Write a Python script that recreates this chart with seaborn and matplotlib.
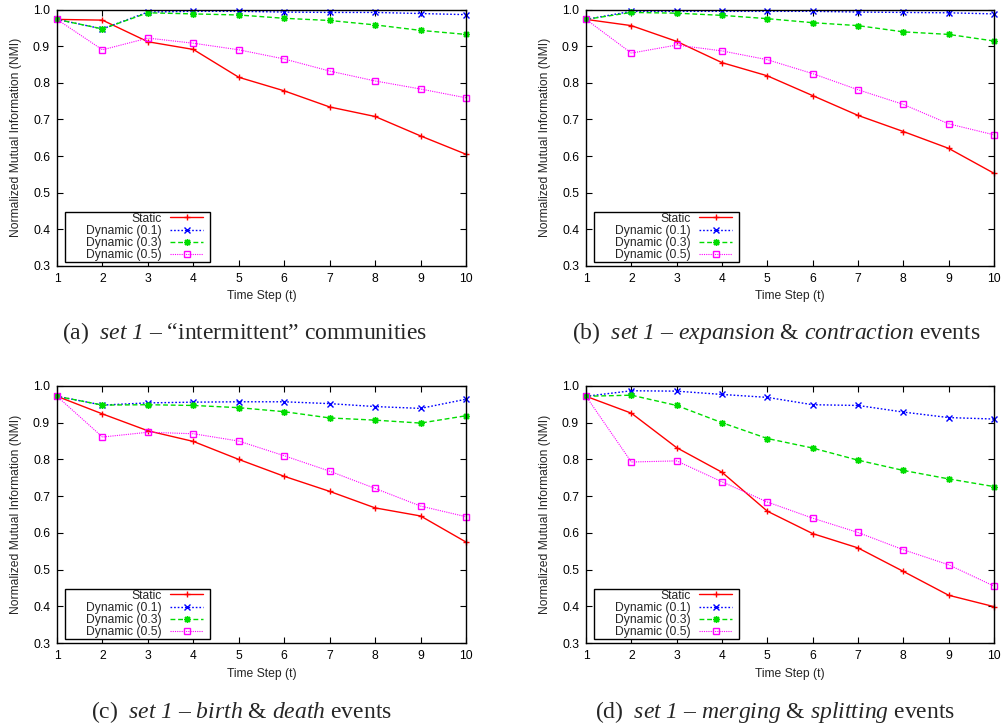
import matplotlib
matplotlib.use("Agg")
import matplotlib.pyplot as plt
from matplotlib.patches import Rectangle
import numpy as np
import pandas as pd
import seaborn as sns

# ---------------- data ----------------
time_steps = [1, 2, 3, 4, 5, 6, 7, 8, 9, 10]
series_names = ["Static", "Dynamic (0.1)", "Dynamic (0.3)", "Dynamic (0.5)"]

# (a) intermittent communities
a_static = [0.973, 0.971, 0.912, 0.891, 0.815, 0.778, 0.734, 0.708, 0.655, 0.605]
a_dyn01 = [0.973, 0.947, 0.993, 0.995, 0.995, 0.993, 0.992, 0.992, 0.989, 0.986]
a_dyn03 = [0.973, 0.947, 0.991, 0.988, 0.985, 0.976, 0.970, 0.958, 0.943, 0.932]
a_dyn05 = [0.973, 0.890, 0.922, 0.908, 0.890, 0.865, 0.832, 0.805, 0.783, 0.759]

# (b) expansion & contraction
b_static = [0.973, 0.956, 0.913, 0.855, 0.819, 0.765, 0.711, 0.667, 0.621, 0.553]
b_dyn01 = [0.973, 0.995, 0.995, 0.995, 0.995, 0.995, 0.993, 0.992, 0.991, 0.988]
b_dyn03 = [0.973, 0.992, 0.990, 0.984, 0.975, 0.964, 0.956, 0.939, 0.932, 0.914]
b_dyn05 = [0.973, 0.881, 0.903, 0.887, 0.863, 0.825, 0.781, 0.741, 0.688, 0.658]

# (c) birth & death
c_static = [0.972, 0.924, 0.878, 0.849, 0.800, 0.754, 0.713, 0.668, 0.646, 0.575]
c_dyn01 = [0.972, 0.948, 0.954, 0.956, 0.957, 0.957, 0.952, 0.944, 0.939, 0.964]
c_dyn03 = [0.972, 0.948, 0.949, 0.947, 0.941, 0.930, 0.913, 0.907, 0.899, 0.919]
c_dyn05 = [0.972, 0.861, 0.874, 0.870, 0.850, 0.810, 0.768, 0.721, 0.673, 0.644]

# (d) merging & splitting
d_static = [0.972, 0.926, 0.832, 0.765, 0.659, 0.598, 0.559, 0.495, 0.430, 0.399]
d_dyn01 = [0.972, 0.987, 0.986, 0.977, 0.969, 0.949, 0.947, 0.929, 0.914, 0.910]
d_dyn03 = [0.972, 0.975, 0.947, 0.900, 0.857, 0.831, 0.798, 0.770, 0.747, 0.726]
d_dyn05 = [0.972, 0.793, 0.796, 0.739, 0.684, 0.640, 0.601, 0.554, 0.513, 0.455]

y_ticks = [0.3, 0.4, 0.5, 0.6, 0.7, 0.8, 0.9, 1.0]

captions = [
    r"(a)$\ \ \mathit{set}\ \mathsf{1}$ – “intermittent” communities",
    r"(b)$\ \ \mathit{set}\ \mathsf{1}$ – $\mathit{expansion}$ & $\mathit{contraction}$ events",
    r"(c)$\ \ \mathit{set}\ \mathsf{1}$ – $\mathit{birth}$ & $\mathit{death}$ events",
    r"(d)$\ \ \mathit{set}\ \mathsf{1}$ – $\mathit{merging}$ & $\mathit{splitting}$ events",
]
panels = [
    [a_static, a_dyn01, a_dyn03, a_dyn05],
    [b_static, b_dyn01, b_dyn03, b_dyn05],
    [c_static, c_dyn01, c_dyn03, c_dyn05],
    [d_static, d_dyn01, d_dyn03, d_dyn05],
]

# ---------------- styles ----------------
styles = {
    "Static": dict(color="#ff0000", marker="+", markersize=5, linestyle="-", lw=1.0),
    "Dynamic (0.1)": dict(color="#0000ff", marker="x", markersize=4, linestyle=(0, (1.2, 1.4)), lw=1.0),
    "Dynamic (0.3)": dict(color="#00dd00", marker=(8, 2, 0), markersize=5, linestyle=(0, (3.5, 2.0)), lw=1.0),
    "Dynamic (0.5)": dict(color="#ff00ff", marker="s", markersize=5, linestyle=(0, (1.0, 1.0)), lw=0.8,
                          markerfacecolor="none"),
}

sns.set_style("ticks")
plt.rcParams["font.family"] = ["Liberation Sans", "DejaVu Sans"]
plt.rcParams["mathtext.fontset"] = "custom"
plt.rcParams["mathtext.rm"] = "Liberation Serif"
plt.rcParams["mathtext.it"] = "Liberation Serif:italic"
plt.rcParams["mathtext.sf"] = "Liberation Serif:italic"

FS = 8.7
fig = plt.figure(figsize=(10.03, 7.23), dpi=100)
W, H = 1003.0, 723.0

# axes boxes in pixel coords: left, right, top, bottom
boxes = [
    (57, 466, 9.5, 266),
    (586, 994, 9.5, 266),
    (57, 466, 386, 643),
    (586, 994, 386, 643),
]
caption_pos = [(245, 333), (776, 333), (242, 712), (775, 712)]

for idx, (box, data) in enumerate(zip(boxes, panels)):
    l, r, t, b = box
    ax = fig.add_axes([l / W, 1 - b / H, (r - l) / W, (b - t) / H])
    ax.set_facecolor("white")
    for name, vals in zip(series_names, data):
        st = dict(styles[name])
        col = st.pop("color")
        df = pd.DataFrame({"t": time_steps, "nmi": vals})
        sns.lineplot(data=df, x="t", y="nmi", ax=ax, color=col, label=name,
                     markeredgecolor=col, markeredgewidth=1.0, clip_on=False,
                     errorbar=None, **st)
    ax.set_xlim(1, 10)
    ax.set_ylim(0.3, 1.0)
    ax.set_xticks(time_steps)
    ax.set_xticklabels([str(v) for v in time_steps], fontsize=FS)
    ax.set_yticks(y_ticks)
    ax.set_yticklabels([f"{v:.1f}" for v in y_ticks], fontsize=FS)
    ax.tick_params(direction="in", top=True, right=True, length=4, width=0.8,
                   pad=5, colors="black")
    for sp in ax.spines.values():
        sp.set_visible(True)
        sp.set_color("black")
        sp.set_linewidth(1.0)
    ax.set_xlabel("Time Step (t)", fontsize=FS, labelpad=4)
    ax.set_ylabel("Normalized Mutual Information (NMI)", fontsize=FS, labelpad=8)
    aw, ah = (r - l), (b - t)
    # gnuplot-style key box
    frame = Rectangle((8 / aw, 4 / ah), 145 / aw, 50 / ah, transform=ax.transAxes,
                      facecolor="white", edgecolor="black", lw=1.0, zorder=4)
    ax.add_patch(frame)
    leg = ax.legend(loc="center right", bbox_to_anchor=(146.5 / aw, 29 / ah), borderaxespad=0,
                    markerfirst=False, fontsize=FS, frameon=False,
                    labelspacing=0.02, borderpad=0.0,
                    handlelength=2.8, handletextpad=0.65)
    leg.set_zorder(5)
    cx, cy = caption_pos[idx]
    fig.text(cx / W, 1 - cy / H, captions[idx], ha="center", va="center",
             fontsize=17, family="Liberation Serif")

fig.savefig("out.png", dpi=100)
